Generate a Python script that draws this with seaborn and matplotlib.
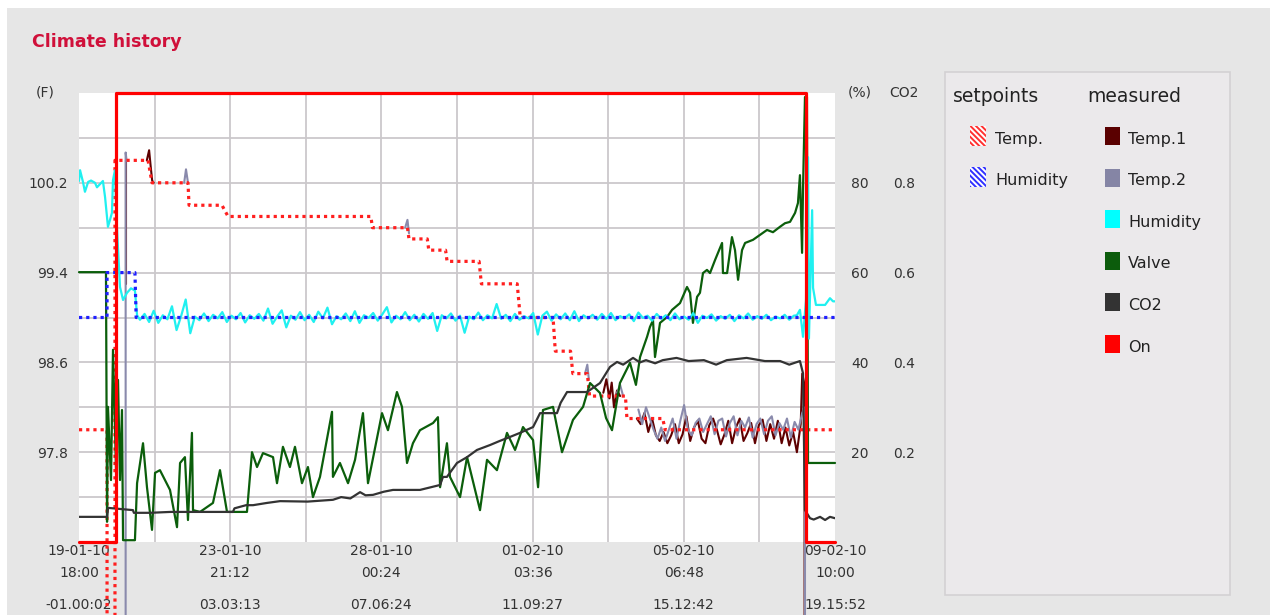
import matplotlib
matplotlib.use("Agg")
import matplotlib.pyplot as plt
from matplotlib.patches import Rectangle
import seaborn as sns
import pandas as pd

# ---------------- data ----------------
# x axis: hours since 19-01-10 18:00
tick_hours = [0, 99.2, 198.4, 297.6, 396.8, 496.0]
grid_hours = [49.6, 99.2, 148.8, 198.4, 248.0, 297.6, 347.2, 396.8, 446.4]
date_labels = ["19-01-10\n18:00", "23-01-10\n21:12", "28-01-10\n00:24",
               "01-02-10\n03:36", "05-02-10\n06:48", "09-02-10\n10:00"]
elapsed_labels = ["-01.00:02", "03.03:13", "07.06:24", "11.09:27", "15.12:42", "19.15:52"]
temp_ticks = [97.8, 98.6, 99.4, 100.2]
temp_grid = [97.4, 97.8, 98.2, 98.6, 99.0, 99.4, 99.8, 100.2, 100.6]
pct_ticks = [20, 40, 60, 80]
co2_ticks = [0.2, 0.4, 0.6, 0.8]

# setpoints
sp_temp = [(0, 98.0), (18.4, 98.0), (18.4, 85.0), (23.6, 85.0), (23.6, 100.4), (45.3, 100.4),
           (47.9, 100.2), (71.5, 100.2), (72.2, 100.0), (93.8, 100.0), (97.8, 99.9), (191.5, 99.9),
           (192.5, 99.8), (215.5, 99.8), (216.5, 99.7), (228.5, 99.7), (229.5, 99.6), (240.5, 99.6),
           (241.5, 99.5), (262.5, 99.5), (264.0, 99.3), (287.5, 99.3), (289.5, 99.0), (311.0, 99.0),
           (312.5, 98.7), (322.5, 98.7), (324.0, 98.5), (333.5, 98.5), (335.0, 98.3), (358.5, 98.3),
           (359.5, 98.1), (383.0, 98.1), (384.5, 98.0), (496.0, 98.0)]
sp_hum = [(0, 50), (18.4, 50), (18.4, 60), (36.7, 60), (37.5, 50), (496, 50)]

# measured
on_state = [(0, 0), (24.3, 0), (24.3, 1), (477.0, 1), (477.0, 0), (496, 0)]

valve_h = [0, 17.7, 18.4, 19.0, 21.0, 22.3, 24.3, 25.6, 26.9, 28.2, 28.9, 36.7, 38.1, 42.0, 44.6,
           47.9, 49.9, 53.1, 59.7, 64.3, 66.3, 69.5, 71.5, 74.1, 74.8, 79.4, 87.9, 92.5, 97.1, 110.2,
           113.5, 116.8, 120.7, 127.3, 129.9, 133.8, 138.4, 141.7, 146.3, 150.2, 153.5, 158.1, 166.0,
           166.6, 171.2, 176.5, 181.1, 186.3, 189.6, 198.8, 202.7, 208.6, 211.9, 215.2, 219.1, 223.7,
           232.3, 235.5, 236.9, 241.4, 243.4, 250.0, 254.6, 263.1, 267.7, 274.2, 280.8, 286.1, 291.3,
           297.9, 301.2, 304.4, 311.0, 316.9, 324.1, 330.7, 335.3, 341.8, 345.8, 349.7, 354.9, 361.5,
           365.4, 368.1, 372.7, 374.6, 376.6, 377.9, 381.2, 385.8, 389.1, 394.3, 398.9, 400.9, 402.8,
           405.5, 407.4, 409.4, 412.0, 414.0, 417.3, 421.9, 422.5, 425.2, 428.4, 430.4, 432.4, 435.0,
           437.0, 442.2, 446.8, 451.4, 455.3, 459.9, 463.2, 466.5, 469.8, 471.7, 473.0, 474.4, 475.0,
           476.3, 477.6, 478.3, 496.0]
valve_v = [60.1, 60.1, 4.5, 30.1, 13.8, 42.8, 16.0, 36.1, 13.8, 29.4, 0.4, 0.4, 13.1, 22.0, 12.2,
           2.7, 15.4, 16.0, 11.6, 3.3, 17.6, 18.9, 4.9, 24.3, 7.1, 6.7, 8.7, 16.0, 6.7, 6.7,
           20.0, 16.7, 19.8, 18.9, 13.1, 21.2, 16.7, 21.2, 13.1, 16.7, 10.0, 14.5, 29.0,
           14.5, 17.6, 13.1, 18.3, 28.7, 13.1, 28.7, 24.9, 33.4, 30.1, 17.6, 22.0, 24.9,
           26.5, 27.8, 12.2, 22.0, 14.5, 10.0, 18.9, 7.1, 18.3, 16.0, 24.3, 20.5, 25.6,
           22.7, 12.2, 29.4, 30.1, 20.0, 27.2, 30.1, 35.4, 33.2, 27.6, 24.9, 35.4, 39.9,
           35.0, 41.2, 45.7, 47.9, 49.4, 41.2, 48.8, 50.1, 51.7, 53.2, 56.8, 55.5, 48.8,
           54.6, 55.5, 59.9, 60.6, 59.9, 62.8, 66.6, 59.9, 59.9, 67.9, 65.0, 58.4, 65.0,
           66.6, 67.3, 68.4, 69.5, 69.0, 70.2, 71.0, 71.3, 73.3, 75.5, 81.7, 64.4, 78.4,
           99.1, 99.1, 17.6, 17.6]

hum_start = [(0, 80.4), (0.7, 82.8), (2.6, 80.2), (3.9, 78.0), (6.0, 80.2), (7.9, 80.5), (10.5, 80.0),
             (11.8, 79.0), (15.7, 80.4), (17.1, 76.8), (19.0, 70.2), (20.3, 71.7), (21.6, 73.3),
             (22.3, 80.6), (23.6, 82.8), (24.9, 70.0), (26.9, 56.8), (28.9, 53.9), (31.5, 55.5),
             (34.1, 56.5), (36.7, 56.0), (38.1, 50.5)]
# readings every 3 h from 40 h on
hum_mid_first, hum_mid_step = 40, 3
hum_mid = [49.5, 50.8, 49.0, 51.5, 48.8, 50.5, 49.6, 52.5, 47.2, 50.3,
           54.0, 46.5, 50.2, 49.4, 50.9, 49.2, 50.6, 49.8, 51.2, 49.0,
           50.4, 49.6, 51.0, 48.9, 50.5, 49.7, 50.8, 49.3, 52.0, 48.6,
           50.2, 51.6, 47.8, 50.4, 49.5, 51.2, 49.4, 50.6, 49.0, 51.3,
           49.8, 52.2, 48.5, 50.3, 49.6, 50.9, 49.2, 51.4, 48.8, 50.5,
           49.9, 51.0, 49.3, 50.7, 52.3, 48.9, 50.4, 49.6, 51.2, 49.4,
           50.6, 49.1, 50.8, 49.7, 51.0, 47.0, 50.5, 49.8, 50.9, 49.3,
           50.4, 46.6, 50.2, 49.6, 51.1, 49.4, 50.5, 49.8, 53.0, 49.7,
           50.6, 49.2, 50.8, 49.5, 50.3, 49.8, 51.0, 46.2, 50.4, 51.3,
           49.3, 50.7, 49.6, 50.9, 49.4, 51.4, 49.2, 50.5, 49.8, 50.6,
           49.5, 50.8, 49.7, 51.0, 49.4, 50.3, 49.8, 50.7, 49.2, 51.1,
           49.9, 50.4, 49.3, 50.8, 49.7, 50.5, 49.4, 50.9, 49.6, 50.2,
           49.5, 51.0, 48.8, 50.4, 49.9, 50.7, 49.3, 50.3, 49.7, 50.6,
           49.2, 50.5, 49.8, 50.9, 49.5, 50.3, 49.7, 50.6, 49.4, 50.2,
           49.8, 50.6, 49.5, 50.4]
hum_end = [(471, 50.5), (473.0, 51.7), (475.0, 45.7), (477.0, 54.0), (478.3, 85.7), (478.9, 45.3),
           (481.0, 73.9), (481.6, 56.6), (483.5, 52.8), (486.2, 52.8), (489.5, 52.8), (492.7, 54.3),
           (494.7, 53.6), (496, 53.6)]

co2 = [(0, 0.056), (18.4, 0.056), (19.0, 0.076), (35.4, 0.071), (36, 0.065), (46.6, 0.065), (60, 0.067),
       (101, 0.067), (102, 0.075), (109.6, 0.082), (114.2, 0.082), (123.3, 0.087), (131.9, 0.091),
       (150, 0.09), (166.6, 0.094), (172, 0.1), (178, 0.097), (184.4, 0.111), (188, 0.104),
       (192.9, 0.105), (200, 0.112), (206, 0.116), (223.7, 0.116), (236.9, 0.127), (238.8, 0.145),
       (241.4, 0.145), (248, 0.176), (254.6, 0.189), (261.1, 0.205), (269.7, 0.216), (276, 0.225),
       (282.8, 0.234), (289.3, 0.243), (297.9, 0.256), (300, 0.27), (302.5, 0.287), (313.6, 0.287),
       (316, 0.31), (320.2, 0.334), (333.3, 0.334), (341.8, 0.354), (348.4, 0.390), (353, 0.401),
       (357, 0.395), (363.5, 0.410), (368, 0.40), (372, 0.405), (378, 0.398), (383, 0.405),
       (392, 0.41), (400, 0.403), (410, 0.405), (418, 0.395), (425, 0.405), (438, 0.41),
       (450, 0.403), (460, 0.403), (466, 0.395), (473, 0.403), (475, 0.376), (476.3, 0.071),
       (479.6, 0.053), (482, 0.05), (486.2, 0.056), (489.5, 0.049), (492.7, 0.056), (496, 0.053)]

temp1_segments = [
    [(31.0, 99.3), (31.0, 100.4), (31.8, 100.4)],
    [(44.5, 100.4), (46.0, 100.49), (47.0, 100.35), (48.0, 100.22), (49.0, 100.2)],
    [(344, 98.33), (346, 98.45), (348, 98.28), (349.5, 98.42), (351, 98.2), (353, 98.35), (355, 98.3)],
    [(366, 98.1), (368.5, 98.05), (371, 98.15), (373.5, 97.98), (376, 98.1), (378.5, 97.95),
     (381, 97.9), (383.5, 97.98), (386, 97.88), (388.5, 97.95), (391, 98.05), (393.5, 97.88),
     (396, 97.96), (398.5, 98.12), (401, 97.9), (403.5, 98.02), (406, 98.08), (408.5, 97.92),
     (411, 97.88), (413.5, 98.04), (416, 98.1), (418.5, 98.0), (421, 97.87), (423.5, 97.96),
     (426, 98.08), (428.5, 97.88), (431, 98.02), (433.5, 98.1), (436, 97.9), (438.5, 97.97),
     (441, 98.06), (443.5, 97.88), (446, 98.04), (448.5, 98.09), (451, 97.9), (453.5, 98.05),
     (456, 97.92), (458.5, 98.08), (461, 97.88), (463.5, 98.02), (466, 97.86), (468.5, 97.98),
     (471, 97.8), (473.5, 98.05), (474.5, 98.5), (476.0, 98.4), (476.3, 85.0)],
]
temp2_segments = [
    [(30.6, 80.0), (30.6, 100.47), (31.2, 100.4)],
    [(69, 100.2), (70.2, 100.32), (71.5, 100.2)],
    [(214, 99.8), (215.5, 99.87), (216.5, 99.75)],
    [(332, 98.5), (333.5, 98.58), (334.5, 98.45)],
    [(353, 98.33), (355, 98.4), (357, 98.3)],
    [(367, 98.18), (369.5, 98.05), (372, 98.2), (374.5, 98.1), (377, 98.0), (379.5, 97.92),
     (382, 98.02), (384.5, 97.9), (387, 98.0), (389.5, 98.1), (392, 97.92), (394.5, 98.08),
     (397, 98.22), (399.5, 98.0), (402, 97.95), (404.5, 98.06), (407, 98.1), (409.5, 97.98),
     (412, 98.05), (414.5, 98.12), (417, 97.96), (419.5, 98.08), (422, 98.1), (424.5, 97.94),
     (427, 98.06), (429.5, 98.12), (432, 97.95), (434.5, 98.08), (437, 98.02), (439.5, 98.11),
     (442, 97.93), (444.5, 98.05), (447, 98.1), (449.5, 97.96), (452, 98.08), (454.5, 98.12),
     (457, 97.95), (459.5, 98.06), (462, 98.0), (464.5, 98.1), (467, 97.93), (469.5, 98.07),
     (472, 98.0), (474.5, 98.15), (476.3, 98.2), (476.4, 80.0), (496, 80.0)],
]

# ---------------- style ----------------
sns.set_theme(style="white")
plt.rcParams["font.family"] = ["DejaVu Sans"]
plt.rcParams["hatch.linewidth"] = 1.4

W, H = 1270, 615
TXT = "#333333"
fig = plt.figure(figsize=(W / 100, H / 100), dpi=100, facecolor="white")


def fx(x):
    return x / W


def fy(y):
    return 1 - y / H


fig.add_artist(Rectangle((fx(7), 0), 1 - fx(7), fy(8), transform=fig.transFigure,
                         facecolor="#e6e6e6", edgecolor="none", zorder=-10))
fig.text(fx(32), fy(42), "Climate history", color="#d0103a", fontsize=12.5,
         fontweight="bold", ha="left", va="center")

axF = fig.add_axes([fx(79), fy(542), (835 - 79) / W, (542 - 93) / H])
axF.set_facecolor("white")
axP = axF.twinx()
axC = axF.twinx()
for a in (axF, axP, axC):
    for s in a.spines.values():
        s.set_visible(False)

axF.set_xlim(0, 496)
axF.set_ylim(97.0, 101.0)
axP.set_ylim(0, 100)
axC.set_ylim(0, 1)

# grid (minor ticks carry the grid; keep those that coincide with labelled ticks)
axF.xaxis.remove_overlapping_locs = False
axF.yaxis.remove_overlapping_locs = False
axF.set_xticks(tick_hours)
axF.set_xticklabels(date_labels)
axF.set_xticks(grid_hours, minor=True)
axF.set_yticks(temp_ticks)
axF.set_yticklabels([f"{v:.1f}" for v in temp_ticks])
axF.set_yticks(temp_grid, minor=True)
axF.grid(False, which="major")
axF.grid(True, which="minor", color="#cbc8cb", lw=1.3)
axF.set_axisbelow(True)
axF.tick_params(axis="both", which="both", length=0, labelsize=10, labelcolor=TXT)
axF.tick_params(axis="y", pad=8)
axF.tick_params(axis="x", pad=1.5)
for lbl in axF.get_xticklabels():
    lbl.set_linespacing(1.7)

axP.set_yticks(pct_ticks)
axP.set_yticklabels([str(v) for v in pct_ticks])
axP.tick_params(axis="y", length=0, labelsize=10, labelcolor=TXT, pad=11.5)
axC.set_yticks(co2_ticks)
axC.set_yticklabels([f"{v:.1f}" for v in co2_ticks])
axC.tick_params(axis="y", length=0, labelsize=10, labelcolor=TXT, pad=42)

sec = axF.secondary_xaxis("bottom")
sec.set_xticks(tick_hours)
sec.set_xticklabels(elapsed_labels)
sec.tick_params(length=0, labelsize=10, labelcolor=TXT, pad=40)
for s in sec.spines.values():
    s.set_visible(False)

fig.text(fx(45), fy(93), "(F)", ha="center", va="center", fontsize=10, color=TXT)
fig.text(fx(860), fy(93), "(%)", ha="center", va="center", fontsize=10, color=TXT)
fig.text(fx(904), fy(93), "CO2", ha="center", va="center", fontsize=10, color=TXT)


def draw(ax, pairs, color, lw, z, ls="-", clip=True):
    df = pd.DataFrame(pairs, columns=["t", "v"])
    sns.lineplot(data=df, x="t", y="v", ax=ax, color=color, linewidth=lw, linestyle=ls,
                 estimator=None, sort=False, legend=False, zorder=z, clip_on=clip)


DOT = (0, (1, 1.25))

# temperature axis (F)
for seg in temp1_segments:
    draw(axF, seg, "#5e0000", 1.5, 3, clip=False)
for seg in temp2_segments:
    draw(axF, seg, "#8a8aac", 1.5, 4, clip=False)
draw(axF, sp_temp, "#ff1f1f", 2.3, 5, ls=DOT, clip=False)

# percent axis
humidity = (hum_start
            + [(hum_mid_first + hum_mid_step * i, v) for i, v in enumerate(hum_mid)]
            + hum_end)
draw(axP, list(zip(valve_h, valve_v)), "#0b5e0b", 1.6, 3, clip=False)
draw(axP, humidity, "#20f0f0", 1.6, 4)
draw(axP, sp_hum, "#1f1fff", 2.3, 5, ls=DOT)

# CO2 axis (fraction) + on/off state
draw(axC, co2, "#333333", 1.6, 3)
draw(axC, on_state, "#ff0000", 2.3, 6, clip=False)

for a in (axF, axP, axC):
    a.set_xlabel("")
    a.set_ylabel("")
axF.set_xlim(0, 496)

# ---------------- legend panel ----------------
fig.add_artist(Rectangle((fx(945), fy(595)), (1230 - 945) / W, (595 - 72) / H,
                         transform=fig.transFigure, facecolor="#ebe9eb",
                         edgecolor="#d3d1d3", lw=1.2))
fig.text(fx(953), fy(96), "setpoints", fontsize=13.5, va="center", ha="left", color="#222222")
fig.text(fx(1087), fy(96), "measured", fontsize=13.5, va="center", ha="left", color="#222222")

setpoint_items = [("Temp.", "#ff3030", 136), ("Humidity", "#3030ff", 177)]
for label, col, yc in setpoint_items:
    fig.add_artist(Rectangle((fx(970), fy(yc + 10)), 16 / W, 20 / H, transform=fig.transFigure,
                             facecolor="white", edgecolor=col, hatch="\\\\\\\\\\\\", lw=0))
    fig.text(fx(995), fy(yc + 3), label, fontsize=11.5, va="center", ha="left", color="#222222")

measured_items = [("Temp.1", "#5a0000"), ("Temp.2", "#8585a5"), ("Humidity", "#00ffff"),
                  ("Valve", "#0c5c0c"), ("CO2", "#333333"), ("On", "#ff0000")]
for i, (label, col) in enumerate(measured_items):
    yc = 136 + i * 41.6
    fig.add_artist(Rectangle((fx(1105), fy(yc + 9)), 15 / W, 18 / H, transform=fig.transFigure,
                             facecolor=col, edgecolor="none"))
    fig.text(fx(1128), fy(yc + 3), label, fontsize=11.5, va="center", ha="left", color="#222222")

fig.savefig("out.png", dpi=100, facecolor="white")
